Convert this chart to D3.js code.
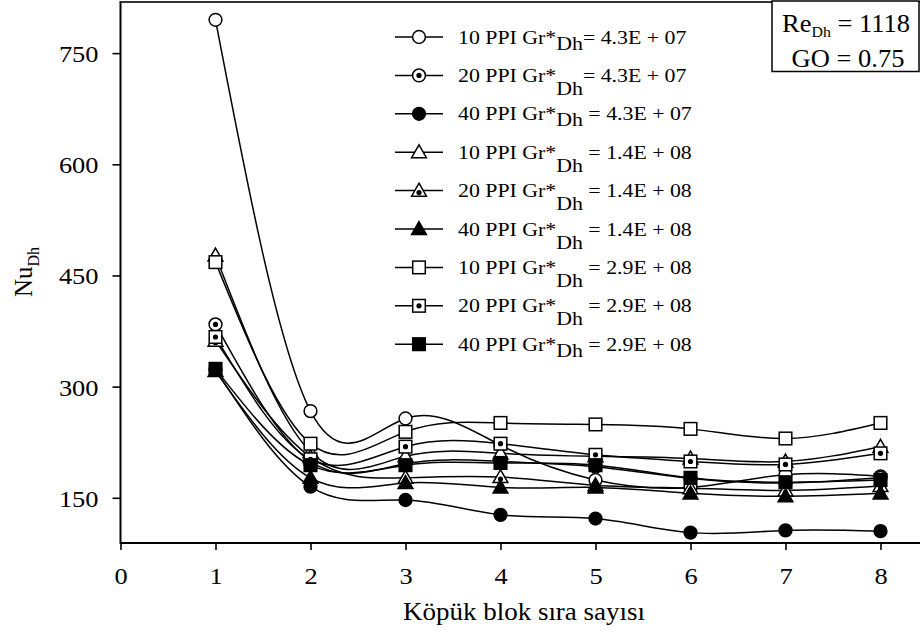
<!DOCTYPE html>
<html>
<head>
<meta charset="utf-8">
<script src="https://cdn.jsdelivr.net/npm/d3@7"></script>
<style>
  body { margin: 0; background: #fff; }
  text { font-family: "Liberation Serif", "Times New Roman", serif; fill: #000; }
</style>
</head>
<body>
<div id="chart"></div>
<script>
// DATA ------------------------------
const blocks = [1, 2, 3, 4, 5, 6, 7, 8];
const xTicks = [0, 1, 2, 3, 4, 5, 6, 7, 8];
const yTicks = [150, 300, 450, 600, 750];

const seriesPPI = ['10 PPI', '20 PPI', '40 PPI', '10 PPI', '20 PPI', '40 PPI', '10 PPI', '20 PPI', '40 PPI'];
const seriesGr = ['4.3E + 07', '4.3E + 07', '4.3E + 07', '1.4E + 08', '1.4E + 08', '1.4E + 08', '2.9E + 08', '2.9E + 08', '2.9E + 08'];

const nu10ppi43 = [795, 267, 257, 221, 174, 164, 181, 179];
const nu20ppi43 = [384, 199, 196, 199, 192, 176, 170, 177];
const nu40ppi43 = [323, 165, 147, 127, 122, 103, 106, 105];
const nu10ppi14 = [477, 212, 206, 210, 206, 203, 199, 219];
const nu20ppi14 = [362, 205, 177, 178, 167, 163, 160, 166];
const nu40ppi14 = [321, 177, 170, 164, 164, 156, 152, 156];
const nu10ppi29 = [468, 223, 239, 251, 249, 243, 230, 251];
const nu20ppi29 = [367, 202, 219, 223, 208, 199, 195, 210];
const nu40ppi29 = [324, 194, 194, 197, 194, 177, 171, 174];

const allSeries = [nu10ppi43, nu20ppi43, nu40ppi43, nu10ppi14, nu20ppi14, nu40ppi14, nu10ppi29, nu20ppi29, nu40ppi29];

const reText = '1118';
const goText = '0.75';

// STYLE -----------------------------
// marker shape / fill per series (open, dotted, filled)
const shapes = ['circle', 'circle', 'circle', 'triangle', 'triangle', 'triangle', 'square', 'square', 'square'];
const fills = ['open', 'dot', 'solid', 'open', 'dot', 'solid', 'open', 'dot', 'solid'];
const lowSub = [false, true, false, true, true, true, true, true, false];
const tightEq = [true, true, false, false, false, false, false, false, false];

const W = 920, H = 633;
const svg = d3.select('#chart').append('svg').attr('width', W).attr('height', H);

const x = d3.scaleLinear().domain([0, 8.5]).range([120.5, 928]);
const y = d3.scaleLinear().domain([89, 819]).range([543, 2]);

// stretch text a bit wider, like the original font
function placeText(sel, tx, ty, k) {
  sel.attr('x', 0).attr('y', 0).attr('transform', `translate(${tx},${ty}) scale(${k},1)`);
}

// AXES ------------------------------
const yAxis = svg.append('g').attr('transform', `translate(${x(0)},0)`)
  .call(d3.axisLeft(y).tickValues(yTicks).tickSize(8).tickSizeOuter(0));
yAxis.select('.domain').remove();
yAxis.selectAll('.tick line').attr('stroke-width', 1.6);
yAxis.selectAll('.tick text').each(function () {
  d3.select(this).attr('dy', null).style('font-size', '24px').attr('text-anchor', 'end')
    .call(placeText, -22, 8.5, 1.1);
});

const xAxis = svg.append('g').attr('transform', `translate(0,${y(89)})`)
  .call(d3.axisBottom(x).tickValues(xTicks).tickSize(7).tickSizeOuter(0));
xAxis.select('.domain').remove();
xAxis.selectAll('.tick line').attr('stroke-width', 1.6);
xAxis.selectAll('.tick text').each(function () {
  d3.select(this).attr('dy', null).style('font-size', '24px').attr('text-anchor', 'middle')
    .call(placeText, 0, 41, 1.1);
});

// frame lines: left, bottom, top
svg.append('line').attr('x1', x(0)).attr('x2', x(0)).attr('y1', 1).attr('y2', y(89) + 1)
  .attr('stroke', '#000').attr('stroke-width', 2);
svg.append('line').attr('x1', x(0)).attr('x2', W).attr('y1', y(89)).attr('y2', y(89))
  .attr('stroke', '#000').attr('stroke-width', 2);
svg.append('line').attr('x1', x(0)).attr('x2', W).attr('y1', 2).attr('y2', 2)
  .attr('stroke', '#333').attr('stroke-width', 2);

// axis titles
svg.append('text').style('font-size', '25px').attr('text-anchor', 'middle')
  .text('Köpük blok sıra sayısı')
  .call(placeText, 524, 620, 1.08);

const yt = svg.append('text').style('font-size', '25px').attr('text-anchor', 'middle')
  .attr('transform', 'translate(32,272) rotate(-90)');
yt.append('tspan').text('Nu');
yt.append('tspan').attr('dy', 7).style('font-size', '16px').text('Dh');

// LINES -----------------------------
const line = d3.line().x((d, i) => x(blocks[i])).y(d => y(d)).curve(d3.curveNatural);
svg.append('g').selectAll('path').data(allSeries).join('path')
  .attr('d', line).attr('fill', 'none').attr('stroke', '#000').attr('stroke-width', 1.5);

// MARKERS ---------------------------
function drawMarker(g, shape, fill, cx, cy) {
  const fc = fill === 'solid' ? '#000' : '#fff';
  if (shape === 'circle') {
    g.append('circle').attr('cx', cx).attr('cy', cy).attr('r', 6.4)
      .attr('fill', fc).attr('stroke', '#000').attr('stroke-width', 1.5);
  } else if (shape === 'square') {
    g.append('rect').attr('x', cx - 6.3).attr('y', cy - 6.3).attr('width', 12.6).attr('height', 12.6)
      .attr('fill', fc).attr('stroke', '#000').attr('stroke-width', 1.5);
  } else {
    const s = 7.4;
    g.append('path')
      .attr('d', `M${cx},${cy - s}L${cx + s},${cy + s * 0.75}L${cx - s},${cy + s * 0.75}Z`)
      .attr('fill', fc).attr('stroke', '#000').attr('stroke-width', 1.5);
  }
  if (fill === 'dot') {
    g.append('circle').attr('cx', cx).attr('cy', shape === 'triangle' ? cy + 2 : cy).attr('r', 2.6).attr('fill', '#000');
  }
}

const markers = svg.append('g');
allSeries.forEach((vals, si) => {
  vals.forEach((v, i) => drawMarker(markers, shapes[si], fills[si], x(blocks[i]), y(v)));
});

// LEGEND ----------------------------
const legend = svg.append('g');
allSeries.forEach((vals, si) => {
  const ly = 37 + si * 38.4;
  legend.append('line').attr('x1', 395).attr('x2', 443).attr('y1', ly).attr('y2', ly)
    .attr('stroke', '#000').attr('stroke-width', 1.5);
  drawMarker(legend, shapes[si], fills[si], 419, ly);
  const sub = lowSub[si] ? 13 : 6;
  const t = legend.append('text').style('font-size', '19.5px');
  t.append('tspan').text(`${seriesPPI[si]} Gr*`);
  t.append('tspan').attr('dy', sub).text('Dh');
  t.append('tspan').attr('dy', -sub).text(`${tightEq[si] ? '' : ' '}= ${seriesGr[si]}`);
  t.call(placeText, 458, ly + 6.5, 1.12);
});

// INFO BOX --------------------------
svg.append('rect').attr('x', 772).attr('y', 1).attr('width', 147).attr('height', 70.5)
  .attr('fill', '#fff').attr('stroke', '#000').attr('stroke-width', 1.5);
const re = svg.append('text').style('font-size', '25px').attr('text-anchor', 'middle');
re.append('tspan').text('Re');
re.append('tspan').attr('dy', 5).style('font-size', '15px').text('Dh');
re.append('tspan').attr('dy', -5).text(` = ${reText}`);
re.call(placeText, 846, 31.5, 1.06);
svg.append('text').style('font-size', '25px').attr('text-anchor', 'middle')
  .text(`GO = ${goText}`)
  .call(placeText, 848, 66.5, 1.06);
</script>
</body>
</html>
